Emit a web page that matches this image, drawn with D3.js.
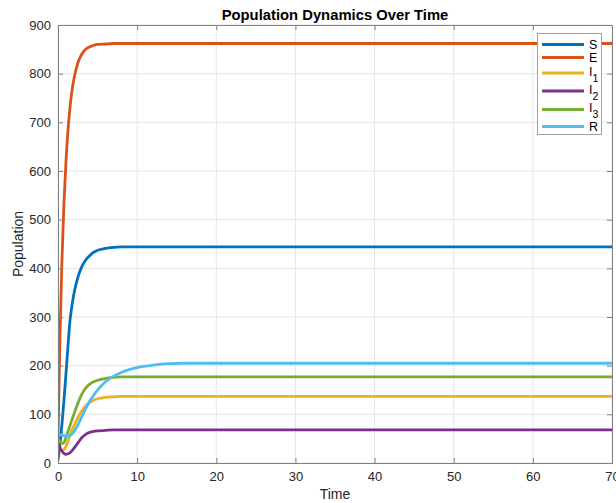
<!DOCTYPE html>
<html>
<head>
<meta charset="utf-8">
<script src="https://cdn.jsdelivr.net/npm/d3@7"></script>
<style>
  html, body { margin: 0; padding: 0; background: #fff; }
  svg { display: block; font-family: "Liberation Sans", Arial, sans-serif; }
</style>
</head>
<body>
<svg id="chart" width="616" height="503"></svg>
<script>
// Sample times shared by every compartment
const time = [0, 0.25, 0.5, 0.75, 1, 1.25, 1.5, 1.75, 2, 2.5, 3, 3.5, 4, 4.5, 5, 6, 7, 8, 9, 10, 12, 14, 16, 20, 70];

// Compartment sizes at those times
const S  = [5, 40, 80, 128, 182, 238, 290, 322, 347, 381, 403, 417, 426, 433, 437, 441, 443, 444, 444, 444, 444, 444, 444, 444, 444];
const E  = [50, 260, 416, 532, 617, 681, 728, 763, 788, 822, 840, 850, 855, 858, 860, 861, 862, 862, 862, 862, 862, 862, 862, 862, 862];
const I1 = [42, 32, 27, 27, 34, 44, 56, 67, 76, 93, 107, 117, 124, 129, 132, 135, 136, 137, 137, 137, 137, 137, 137, 137, 137];
const I2 = [45, 32, 24, 20, 18, 19, 21, 25, 30, 41, 52, 59, 63, 65, 66, 67, 68, 68, 68, 68, 68, 68, 68, 68, 68];
const I3 = [50, 44, 40, 42, 52, 64, 76, 88, 100, 122, 141, 154, 162, 167, 170, 174, 176, 177, 177, 177, 177, 177, 177, 177, 177];
const R  = [60, 58, 57, 56, 56, 56, 57, 59, 64, 78, 95, 112, 127, 139, 150, 167, 178, 186, 192, 196, 201, 204, 205, 205, 205];

const seriesNames = ["S", "E", "I1", "I2", "I3", "R"];
const seriesValues = [S, E, I1, I2, I3, R];
const seriesColors = ["#0072BD", "#D95319", "#EDB120", "#7E2F8E", "#77AC30", "#4DBEEE"];

const xTicks = [0, 10, 20, 30, 40, 50, 60, 70];
const yTicks = [0, 100, 200, 300, 400, 500, 600, 700, 800, 900];

const margin = { left: 58, right: 4, top: 25, bottom: 40 };
const W = 616, H = 503;
const svg = d3.select("#chart");

const x = d3.scaleLinear().domain([0, 70]).range([margin.left, W - margin.right]);
const y = d3.scaleLinear().domain([0, 900]).range([H - margin.bottom, margin.top]);

const axisColor = "#808080";
const textColor = "#262626";

// Grid
const grid = svg.append("g");
grid.selectAll("line.gx").data(xTicks).join("line")
  .attr("x1", d => x(d)).attr("x2", d => x(d))
  .attr("y1", y(0)).attr("y2", y(900))
  .attr("stroke", "#e6e6e6").attr("stroke-width", 1);
grid.selectAll("line.gy").data(yTicks).join("line")
  .attr("x1", x(0)).attr("x2", x(70))
  .attr("y1", d => y(d)).attr("y2", d => y(d))
  .attr("stroke", "#e6e6e6").attr("stroke-width", 1);

// Curves
const line = d3.line()
  .x((d, i) => x(time[i]))
  .y(d => y(d))
  .curve(d3.curveMonotoneX);

svg.append("clipPath").attr("id", "plotClip")
  .append("rect")
  .attr("x", x(0)).attr("y", y(900) - 2)
  .attr("width", x(70) - x(0)).attr("height", y(0) - y(900) + 2);

svg.append("g").attr("clip-path", "url(#plotClip)")
  .selectAll("path").data(seriesValues).join("path")
  .attr("d", d => line(d))
  .attr("fill", "none")
  .attr("stroke", (d, i) => seriesColors[i])
  .attr("stroke-width", 2.8)
  .attr("stroke-linejoin", "round");

// Axes (box with inward ticks)
const xAxis = d3.axisBottom(x).tickValues(xTicks).tickSize(-5).tickPadding(9).tickFormat(d3.format("d"));
const yAxis = d3.axisLeft(y).tickValues(yTicks).tickSize(-5).tickPadding(7).tickFormat(d3.format("d"));
const xAxisTop = d3.axisTop(x).tickValues(xTicks).tickSize(-5).tickFormat("");
const yAxisRight = d3.axisRight(y).tickValues(yTicks).tickSize(-5).tickFormat("");

function styleAxis(g) {
  g.select(".domain").attr("stroke", axisColor).attr("stroke-width", 1);
  g.selectAll(".tick line").attr("stroke", axisColor);
  g.selectAll(".tick text").attr("fill", textColor).attr("font-size", 13)
    .attr("font-family", "'Liberation Sans', Arial, sans-serif");
}

svg.append("g").attr("transform", `translate(0,${y(0)})`).call(xAxis).call(styleAxis);
svg.append("g").attr("transform", `translate(${x(0)},0)`).call(yAxis).call(styleAxis);
svg.append("g").attr("transform", `translate(0,${y(900)})`).call(xAxisTop).call(styleAxis);
svg.append("g").attr("transform", `translate(${x(70)},0)`).call(yAxisRight).call(styleAxis);

// Title and axis labels
svg.append("text")
  .attr("x", (x(0) + x(70)) / 2).attr("y", 20)
  .attr("text-anchor", "middle")
  .attr("font-size", 14.8).attr("font-weight", "bold").attr("fill", "#000")
  .text("Population Dynamics Over Time");

svg.append("text")
  .attr("x", (x(0) + x(70)) / 2).attr("y", 499)
  .attr("text-anchor", "middle")
  .attr("font-size", 14).attr("fill", textColor)
  .text("Time");

svg.append("text")
  .attr("transform", `translate(23,${(y(0) + y(900)) / 2}) rotate(-90)`)
  .attr("text-anchor", "middle")
  .attr("font-size", 14).attr("fill", textColor)
  .text("Population");

// Legend
const legend = svg.append("g");
legend.append("rect")
  .attr("x", 537.5).attr("y", 33.5).attr("width", 64).attr("height", 101)
  .attr("fill", "#fff").attr("stroke", "#a0a0a0").attr("stroke-width", 1);

const legendRows = [44.5, 57.5, 73, 91, 109.5, 126.5];
const labelMain = ["S", "E", "I", "I", "I", "R"];
const labelSub = ["", "", "1", "2", "3", ""];

seriesNames.forEach((name, i) => {
  const ly = legendRows[i];
  legend.append("line")
    .attr("x1", 542).attr("x2", 584)
    .attr("y1", ly).attr("y2", ly)
    .attr("stroke", seriesColors[i]).attr("stroke-width", 2.8);
  const t = legend.append("text")
    .attr("x", 589).attr("y", labelSub[i] ? ly + 2.5 : ly + 4.3)
    .attr("font-size", 12.5).attr("fill", "#000");
  t.append("tspan").text(labelMain[i]);
  if (labelSub[i]) {
    t.append("tspan").attr("font-size", 10.5).attr("dy", 6).text(labelSub[i]);
  }
});
</script>
</body>
</html>
